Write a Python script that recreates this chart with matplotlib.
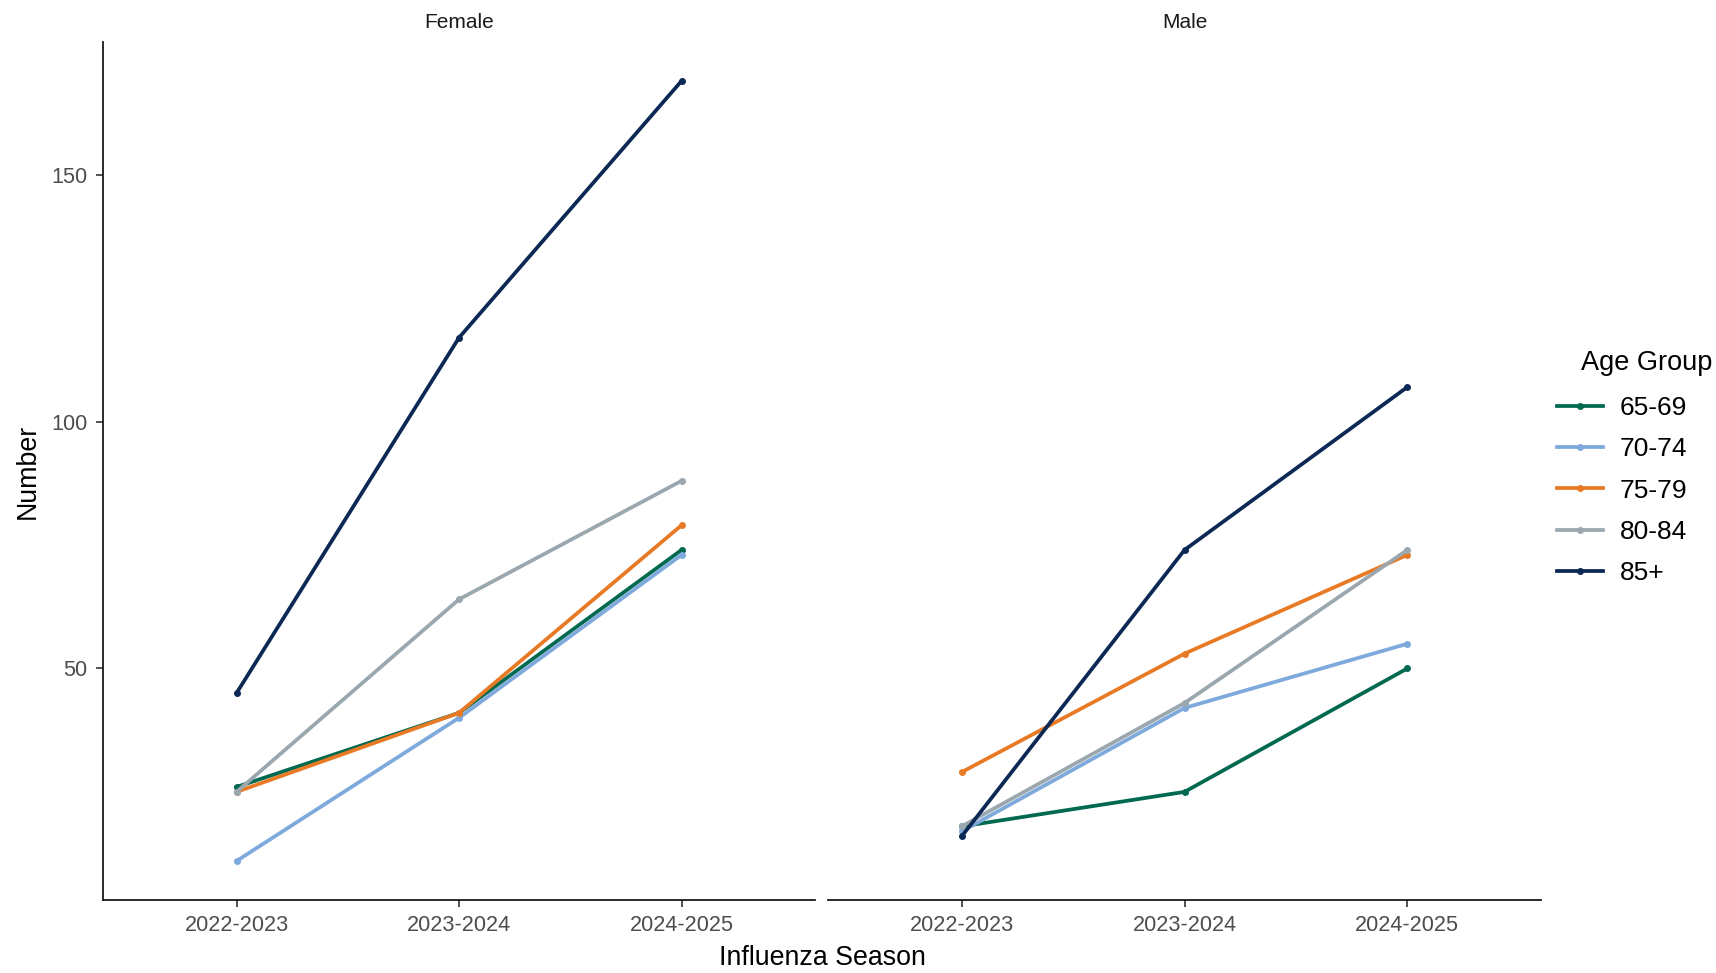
import numpy as np
import matplotlib
matplotlib.use("Agg")
import matplotlib.pyplot as plt
from matplotlib.lines import Line2D

plt.rcParams['font.family'] = ['Liberation Sans', 'DejaVu Sans']

seasons = ["2022-2023", "2023-2024", "2024-2025"]
age_groups = ["65-69", "70-74", "75-79", "80-84", "85+"]
colors = ["#00694F", "#7EA9DC", "#E87A26", "#9BA7AF", "#0C2855"]

female = {
    "65-69": [26, 41, 74],
    "70-74": [11, 40, 73],
    "75-79": [25, 41, 79],
    "80-84": [25, 64, 88],
    "85+": [45, 117, 169],
}
male = {
    "65-69": [18, 25, 50],
    "70-74": [17, 42, 55],
    "75-79": [29, 53, 73],
    "80-84": [18, 43, 74],
    "85+": [16, 74, 107],
}

W, H = 1716, 973
fig = plt.figure(figsize=(W / 100, H / 100), dpi=100)
ax_f = fig.add_axes([103 / W, 1 - 900 / H, (815 - 103) / W, (900 - 42) / H])
ax_m = fig.add_axes([828 / W, 1 - 900 / H, (1541 - 828) / W, (900 - 42) / H], sharey=ax_f)

x = np.arange(1, len(seasons) + 1)
all_vals = [v for d in (female, male) for vals in d.values() for v in vals]
lo, hi = min(all_vals), max(all_vals)
pad = (hi - lo) * 0.05

for ax, data, title in [(ax_f, female, "Female"), (ax_m, male, "Male")]:
    for grp, col in zip(age_groups, colors):
        ax.plot(x, data[grp], color=col, lw=2.7, marker="o", ms=4, zorder=3)
    ax.set_xlim(0.4, 3.6)
    ax.set_ylim(lo - pad, hi + pad)
    ax.set_xticks(x)
    ax.set_xticklabels(seasons)
    ax.set_title(title, fontsize=15, color="#1A1A1A", pad=10)
    for s in ["top", "right"]:
        ax.spines[s].set_visible(False)
    ax.spines["bottom"].set_linewidth(1.3)
    ax.spines["bottom"].set_color("#1A1A1A")
    ax.spines["left"].set_linewidth(1.3)
    ax.spines["left"].set_color("#1A1A1A")
    ax.tick_params(axis="both", labelsize=15.6, labelcolor="#4D4D4D", color="#333333",
                   length=5, width=1.2, pad=6)

ax_f.set_yticks([50, 100, 150])
ax_f.set_ylabel("Number", fontsize=19.3, labelpad=8)
ax_m.spines["left"].set_visible(False)
ax_m.tick_params(axis="y", left=False, labelleft=False)

fig.text((103 + 1541) / 2 / W, 1 - 958 / H, "Influenza Season", ha="center", va="center", fontsize=19.3)

# legend (title placed separately so it sits indented like the original)
handles = [Line2D([0], [0], color=c, lw=2.7, marker="o", ms=4) for c in colors]
leg = fig.legend(handles, age_groups, loc="upper left", bbox_to_anchor=(1533 / W, 1 - 372 / H),
                 frameon=False, fontsize=19, handlelength=1.75, labelspacing=0.66,
                 handletextpad=0.65)
fig.text(1581 / W, 1 - 363 / H, "Age Group", ha="left", va="center", fontsize=19.5)

fig.savefig("out.png", dpi=100)
